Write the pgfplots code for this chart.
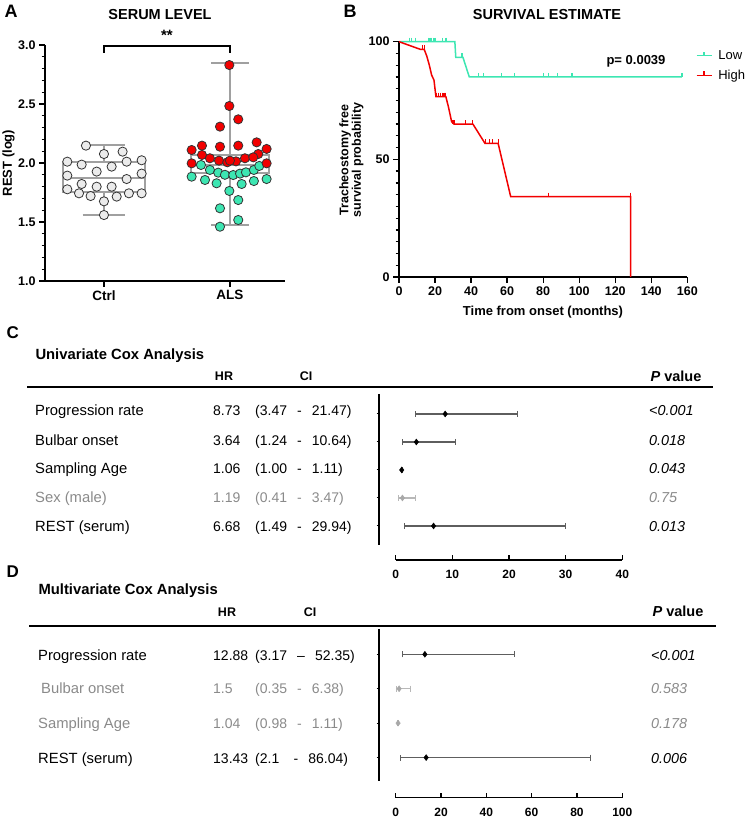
\documentclass[border=0pt]{standalone}
\usepackage{pgfplots}
\pgfplotsset{compat=1.18}
\usepgfplotslibrary{statistics}
\usepackage{fontspec}
\setmainfont{Liberation Sans}
\definecolor{myred}{HTML}{F20000}
\definecolor{mygreen}{HTML}{3DE6B2}
\definecolor{boxgray}{HTML}{A0A0A0}
\definecolor{ctrlfill}{HTML}{EBEBEB}
\definecolor{txtgray}{HTML}{8A8A8A}
\definecolor{ebar}{HTML}{5E5E5E}
\definecolor{ebarlight}{HTML}{B8B8B8}
\definecolor{mkgray}{HTML}{A8A8A8}
\newcommand\fs[1]{\fontsize{#1bp}{#1bp}\selectfont}
\newcommand\gp{\hspace{0.72em}}
\pgfplotsset{
  every axis/.append style={
    scale only axis, clip=false,
    /pgf/number format/assume math mode=true,
    axis line style={line width=1.6bp, black},
    tick style={line width=1.3bp, black},
    tick align=outside,
  },
}
\begin{document}
\begin{tikzpicture}[x=1bp,y=1bp]
\path[use as bounding box] (0,0) rectangle (748,832);

% ================= Panel A =================
\node[anchor=base west, font=\fs{18}\bfseries] at (1,832-17.5) {A};
\node[anchor=base, font=\fs{14.5}\bfseries] at (160,832-19.3) {SERUM LEVEL};
\node[rotate=90, font=\fs{13}\bfseries] at (8.5,832-163) {REST (log)};
\begin{axis}[
  at={(45bp,551bp)}, anchor=south west, width=240bp, height=236bp,
  axis x line*=bottom, axis y line*=left,
  xmin=-0.468, xmax=1.437, ymin=1, ymax=3,
  xtick={0,1}, xticklabels={Ctrl,ALS},
  ytick={1,1.5,2,2.5,3}, minor y tick num=4,
  major tick length=6bp, minor tick length=3.5bp,
  xticklabel style={font=\fs{13.5}\bfseries},
  yticklabel style={font=\fs{12.5}\bfseries,/pgf/number format/.cd,fixed,fixed zerofill,precision=1},
  boxplot/draw direction=y,
]
\addplot[boxgray, line width=2bp, boxplot prepared={draw position=0,
  lower whisker=1.559, lower quartile=1.757, median=1.876,
  upper quartile=2.011, upper whisker=2.153, box extend=0.65, whisker extend=0.34}] coordinates {};
\addplot[boxgray, line width=2bp, boxplot prepared={draw position=1,
  lower whisker=1.475, lower quartile=1.912, median=1.985,
  upper quartile=2.068, upper whisker=2.845, box extend=0.62, whisker extend=0.30}] coordinates {};
\addplot[only marks, mark=*, mark size=4.6bp, mark options={fill=ctrlfill, draw=black!80, line width=0.8bp}] table {
x y
-0.143 2.147
0 2.076
0.148 2.096
-0.291 2.011
-0.177 1.986
0.180 2.011
0.299 2.023
0.061 1.969
-0.058 1.927
-0.291 1.893
0.299 1.910
0.180 1.864
-0.177 1.822
-0.058 1.799
0.061 1.799
-0.291 1.777
-0.198 1.743
-0.106 1.720
0.101 1.715
0.198 1.743
0.299 1.743
0 1.675
0 1.559
};
\addplot[only marks, mark=*, mark size=4.6bp, mark options={fill=mygreen, draw=black!80, line width=0.8bp}] table {
x y
0.770 1.983
0.841 1.941
0.907 1.918
0.960 1.900
1.026 1.898
1.080 1.910
1.127 1.921
1.190 1.941
1.233 1.975
0.696 1.884
0.802 1.856
0.894 1.828
1.093 1.822
1.190 1.847
1.291 1.864
0.995 1.763
1.066 1.686
0.921 1.616
1.066 1.517
0.921 1.460
};
\addplot[only marks, mark=*, mark size=4.6bp, mark options={fill=myred, draw=black!80, line width=0.8bp}] table {
x y
0.995 2.830
0.995 2.483
1.066 2.370
0.921 2.308
0.778 2.147
0.921 2.138
1.066 2.147
1.212 2.175
0.696 2.110
1.291 2.119
0.778 2.068
1.225 2.076
0.841 2.040
0.913 2.020
0.979 2.006
1.048 2.014
1.119 2.040
1.185 2.048
0.696 1.997
1.291 1.997
1.000 2.020
};
\draw[line width=1.4bp] (axis cs:0,2.935) -- (axis cs:0,2.99) -- (axis cs:1,2.99) -- (axis cs:1,2.935);
\node[font=\fs{15}\bfseries] at (axis cs:0.5,3.08) {**};
\end{axis}

% ================= Panel B =================
\node[anchor=base west, font=\fs{18}\bfseries] at (340,832-17.5) {B};
\node[anchor=base, font=\fs{14.5}\bfseries] at (547,832-20) {SURVIVAL ESTIMATE};
\node[rotate=90, align=center, font=\fs{12.5}\bfseries, inner sep=0pt] at (351.5,832-160)
  {\fontsize{12.5bp}{17bp}\selectfont Tracheostomy free\\ survival probability};
\node[font=\fs{13}\bfseries] at (543,832-312) {Time from onset (months)};
\node[anchor=base, font=\fs{13}\bfseries] at (636,832-64.5) {p= 0.0039};
\begin{axis}[
  at={(399bp,555bp)}, anchor=south west, width=288.3bp, height=235.3bp,
  axis x line*=bottom, axis y line*=left,
  xmin=0, xmax=160, ymin=0, ymax=100,
  xtick={0,20,...,160}, ytick={0,50,100}, minor y tick num=9,
  major tick length=6bp, minor tick length=3.5bp,
  ticklabel style={font=\fs{12.5}\bfseries},
  legend style={at={(rel axis cs:1.022,0.972)}, anchor=north west, draw=none, fill=none,
    font=\fs{13}, row sep=5bp, inner xsep=2bp, inner ysep=0pt,
    /tikz/every odd column/.append style={column sep=4bp}},
  legend cell align=left,
  legend image code/.code={\draw[#1,mark=none] (0bp,0bp) -- (15bp,0bp); \draw[#1,mark=none] (7.5bp,0bp) -- (7.5bp,4bp);},
]
\addplot[mygreen, line width=1.5bp] coordinates {
(0,100) (31,100) (31.5,93.3) (35.5,93.3) (39,85.0) (157,85.0)
};
\addlegendentry{Low}
\addplot[myred, line width=1.5bp] coordinates {
(0,100) (12,96.7) (14,96.7) (15.4,93.9) (16.8,90.1) (18.1,85.8) (19.4,83.7) (20.5,76.6)
(26,76.6) (27.4,72.4) (29.2,66.0) (30.5,65.0) (41,65.0) (47.7,56.8) (55,56.8)
(62,34.1) (128.5,34.1) (128.6,0)
};
\addlegendentry{High}
\addplot[mygreen, only marks, mark=|, mark size=2bp, line width=1.2bp, mark options={yshift=2bp}, forget plot] coordinates {
(6,100) (7,100) (9,100) (16.3,100) (17.2,100) (18.2,100) (19.1,100) (20,100) (24.2,100) (26.1,100)
(35,93.3)
(44,85) (47,85) (57,85) (64,85) (80,85) (83,85) (88,85) (96,85) (157,85)
};
\addplot[myred, only marks, mark=|, mark size=2bp, line width=1.2bp, mark options={yshift=2bp}, forget plot] coordinates {
(13,96.7) (14,96.7)
(21,76.6) (22,76.6) (23,76.6) (24,76.6) (25,76.6) (26,76.6)
(30,65) (31,65) (37,65) (41,65)
(48,56.8) (50,56.8) (52,56.8) (55,56.8)
(83,34.1) (128.3,34.1)
};
\end{axis}

% ================= Panel C =================
\node[anchor=base west, font=\fs{17}\bfseries] at (3,832-339) {C};
\node[anchor=base west, font=\fs{14.8}\bfseries] at (32,832-359.3) {Univariate Cox Analysis};
\node[anchor=base, font=\fs{12.5}\bfseries] at (224,832-381) {HR};
\node[anchor=base, font=\fs{12.5}\bfseries] at (306,832-381) {CI};
\node[anchor=base, font=\fs{14.5}\bfseries] at (676,832-381.7) {\textit{P} value};
\draw[line width=2bp] (27,832-387.3) -- (713,832-387.3);
\begin{scope}[every node/.style={anchor=base west, font=\fs{14}, inner sep=0pt}]
\node[font=\fs{14.8}] at (35,832-416) {Progression rate};
\node[font=\fs{14.8}] at (35,832-446) {Bulbar onset};
\node[font=\fs{14.8}] at (35,832-474) {Sampling Age};
\node[txtgray, font=\fs{14.8}] at (35,832-503) {Sex (male)};
\node[font=\fs{14.8}] at (35,832-532) {REST (serum)};
\node at (213,832-416) {8.73};
\node at (213,832-446) {3.64};
\node at (213,832-474) {1.06};
\node[txtgray] at (213,832-503) {1.19};
\node at (213,832-532) {6.68};
\node at (255,832-416) {(3.47\gp-\gp21.47)};
\node at (255,832-446) {(1.24\gp-\gp10.64)};
\node at (255,832-474) {(1.00\gp-\gp1.11)};
\node[txtgray] at (255,832-503) {(0.41\gp-\gp3.47)};
\node at (255,832-532) {(1.49\gp-\gp29.94)};
\node[font=\fs{14.4}] at (649,832-416) {\textit{<0.001}};
\node[font=\fs{14.4}] at (649,832-446) {\textit{0.018}};
\node[font=\fs{14.4}] at (649,832-474) {\textit{0.043}};
\node[txtgray, font=\fs{14.4}] at (649,832-503) {\textit{0.75}};
\node[font=\fs{14.4}] at (649,832-532) {\textit{0.013}};
\end{scope}
\begin{axis}[
  at={(379bp,287bp)}, anchor=south west, width=243.3bp, height=151bp,
  axis x line=none, axis y line*=left,
  xmin=-2.95, xmax=40, ymin=0.286, ymax=5.68, y dir=reverse,
  ytick={1,2,3,4,5}, yticklabels={}, major tick length=2.5bp,
  tick style={line width=1bp},
]
\addplot[only marks, mark=diamond*, mark size=3bp, black,
  error bars/.cd, x dir=both, x explicit, error mark=|,
  error bar style={ebar, line width=1.1bp},
  error mark options={ebar, mark size=3bp, line width=1bp}] coordinates {
(8.73,1) += (12.74,0) -= (5.26,0)
(3.64,2) += (7.00,0) -= (2.40,0)
(1.06,3) += (0.05,0) -= (0.06,0)
(6.68,5) += (23.26,0) -= (5.19,0)
};
\addplot[only marks, mark=diamond*, mark size=3bp, mkgray,
  error bars/.cd, x dir=both, x explicit, error mark=|,
  error bar style={ebarlight, line width=1.1bp},
  error mark options={ebarlight, mark size=3bp, line width=1bp}] coordinates {
(1.19,4) += (2.28,0) -= (0.78,0)
};
\end{axis}
\begin{axis}[
  at={(395.7bp,272bp)}, anchor=south west, width=226.6bp, height=5bp,
  axis x line*=bottom, axis y line=none,
  xmin=0, xmax=40, ymin=0, ymax=1,
  xtick={0,10,...,40}, tick align=inside, major tick length=4.5bp,
  xticklabel style={font=\fs{12}\bfseries, yshift=-7bp},
]
\end{axis}

% ================= Panel D =================
\node[anchor=base west, font=\fs{17}\bfseries] at (3,832-578) {D};
\node[anchor=base west, font=\fs{14.8}\bfseries] at (35,832-595) {Multivariate Cox Analysis};
\node[anchor=base, font=\fs{12.5}\bfseries] at (227,832-616.7) {HR};
\node[anchor=base, font=\fs{12.5}\bfseries] at (310,832-616.7) {CI};
\node[anchor=base, font=\fs{14.5}\bfseries] at (678,832-616.7) {\textit{P} value};
\draw[line width=2bp] (29,832-626) -- (716,832-626);
\begin{scope}[every node/.style={anchor=base west, font=\fs{14}, inner sep=0pt}]
\node[font=\fs{14.8}] at (38,832-660.7) {Progression rate};
\node[txtgray, font=\fs{14.8}] at (41,832-694) {Bulbar onset};
\node[txtgray, font=\fs{14.8}] at (38,832-729) {Sampling Age};
\node[font=\fs{14.8}] at (38,832-763.3) {REST (serum)};
\node at (213,832-660.7) {12.88};
\node[txtgray] at (213,832-694) {1.5};
\node[txtgray] at (213,832-729) {1.04};
\node at (213,832-763.3) {13.43};
\node at (255,832-660.7) {(3.17\gp--\gp52.35)};
\node[txtgray] at (255,832-694) {(0.35\gp-\gp6.38)};
\node[txtgray] at (255,832-729) {(0.98\gp-\gp1.11)};
\node at (255,832-763.3) {(2.1\gp\hspace{0.3em}-\gp86.04)};
\node[font=\fs{14.4}] at (651,832-660.7) {\textit{<0.001}};
\node[txtgray, font=\fs{14.4}] at (651,832-694) {\textit{0.583}};
\node[txtgray, font=\fs{14.4}] at (651,832-729) {\textit{0.178}};
\node[font=\fs{14.4}] at (651,832-763.3) {\textit{0.006}};
\end{scope}
\begin{axis}[
  at={(379bp,51bp)}, anchor=south west, width=243.3bp, height=152bp,
  axis x line=none, axis y line*=left,
  xmin=-7.37, xmax=100, ymin=0.265, ymax=4.68, y dir=reverse,
  ytick={1,2,3,4}, yticklabels={}, major tick length=2.5bp,
  tick style={line width=1bp},
]
\addplot[only marks, mark=diamond*, mark size=3bp, black,
  error bars/.cd, x dir=both, x explicit, error mark=|,
  error bar style={ebar, line width=1.1bp},
  error mark options={ebar, mark size=3bp, line width=1bp}] coordinates {
(12.88,1) += (39.47,0) -= (9.71,0)
(13.43,4) += (72.61,0) -= (11.33,0)
};
\addplot[only marks, mark=diamond*, mark size=3bp, mkgray,
  error bars/.cd, x dir=both, x explicit, error mark=|,
  error bar style={ebarlight, line width=1.1bp},
  error mark options={ebarlight, mark size=3bp, line width=1bp}] coordinates {
(1.5,2) += (4.88,0) -= (1.15,0)
(1.04,3) += (0.07,0) -= (0.06,0)
};
\end{axis}
\begin{axis}[
  at={(395.7bp,34.3bp)}, anchor=south west, width=226.6bp, height=5bp,
  axis x line*=bottom, axis y line=none,
  xmin=0, xmax=100, ymin=0, ymax=1,
  xtick={0,20,...,100}, tick align=inside, major tick length=4.5bp,
  xticklabel style={font=\fs{12}\bfseries, yshift=-7bp},
]
\end{axis}
\end{tikzpicture}
\end{document}
